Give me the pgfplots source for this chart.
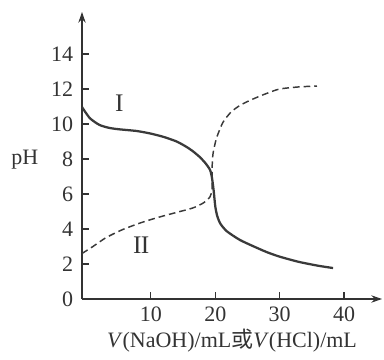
\documentclass[border=0pt]{standalone}
\usepackage{pgfplots}
\pgfplotsset{compat=1.18}
\usepackage{fontspec}
\setmainfont{Liberation Serif}
\newfontfamily\cjk{Noto Sans CJK SC}
\usetikzlibrary{arrows.meta}
\definecolor{ink}{HTML}{333333}
\definecolor{curve}{HTML}{3A3A3A}
\begin{document}
\fontsize{16.5}{19}\selectfont
\begin{tikzpicture}
\path (-61.5pt,-39pt) rectangle (226.5pt,224.25pt);
\begin{axis}[
  at={(0,0)}, anchor=south west,
  scale only axis, width=225pt, height=215.25pt,
  axis lines=left,
  xmin=-0.7, xmax=45.9, ymin=0, ymax=16.4,
  xtick={10,20,30,40}, ytick={0,2,4,6,8,10,12,14},
  tick align=inside, major tick length=5pt,
  axis line style={ink, line width=0.9pt, -{Stealth[length=8pt,width=5.5pt]}},
  tick style={ink, line width=0.9pt},
  ticklabel style={font=\fontsize{16.5}{19}\selectfont, text=ink},
  yticklabel style={xshift=-1pt},
  /pgf/number format/assume math mode=true,
  clip=false,
]
\addplot[curve, line width=1.7pt, smooth, tension=0.4] coordinates {
(-0.7,10.97) (0.5,10.34) (2.0,9.95) (3.5,9.78) (5,9.7) (7.8,9.6) (10,9.45)
(12,9.26) (14,9.0) (15.5,8.7) (16.5,8.45) (17.6,8.11) (18.5,7.75) (19.2,7.37)
(19.5,6.9) (19.75,6.2) (20.0,5.3) (20.3,4.75) (20.8,4.3) (21.8,3.87) (23.8,3.38)
(26,3.0) (28,2.68) (30,2.42) (33,2.12) (36,1.9) (38.3,1.77)
};
\addplot[curve, line width=1.1pt, dash pattern=on 5pt off 3pt, smooth, tension=0.4] coordinates {
(-0.7,2.6) (1,3.0) (3,3.5) (5.5,3.95) (8.3,4.34) (11,4.65) (14,4.95)
(16.5,5.2) (18.2,5.5) (19.2,5.85) (19.5,6.3) (19.5,7.4) (19.65,8.3) (20.2,9.2)
(21.2,10.1) (22.5,10.7) (24,11.1) (26,11.45) (28,11.75) (30,12.0) (33,12.12) (35.8,12.17)
};
\node[text=ink, font=\fontsize{19}{22}\selectfont] at (axis cs:5.1,11.18) {I};
\node[text=ink, font=\fontsize{19}{22}\selectfont] at (axis cs:8.5,3.08) {I\kern-0.6pt I};
\node[text=ink] at (axis cs:-9.6,7.94) {pH};
\node[text=ink] at (axis cs:22.6,-2.35) {\textit{V}(NaOH)/mL{\cjk 或}\textit{V}(HCl)/mL};
\end{axis}
\end{tikzpicture}
\end{document}
